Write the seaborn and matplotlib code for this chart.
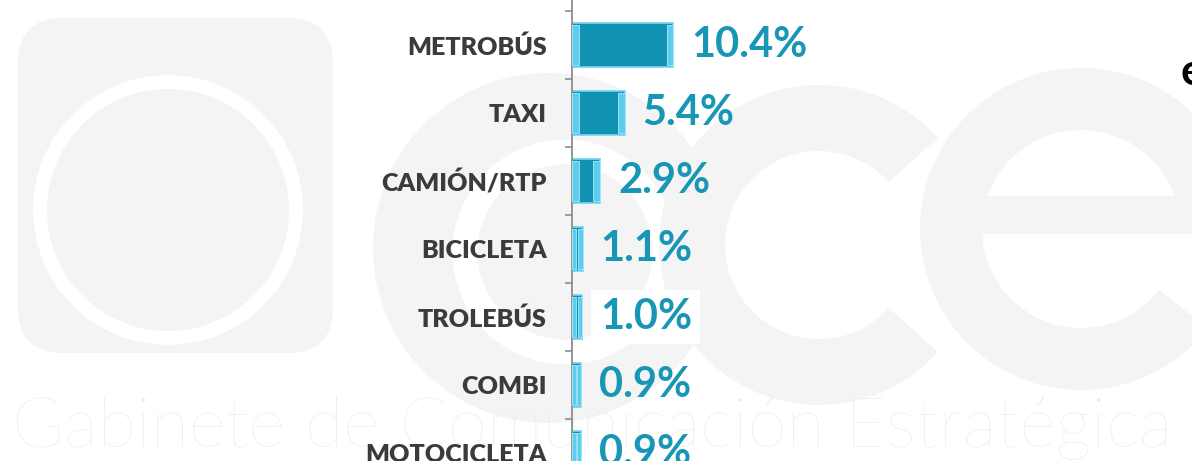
import numpy as np
import matplotlib
matplotlib.use('Agg')
import matplotlib.pyplot as plt
import matplotlib.patches as mpatches
import seaborn as sns

# Data
categories = ['METROBÚS', 'TAXI', 'CAMIÓN/RTP', 'BICICLETA', 'TROLEBÚS', 'COMBI', 'MOTOCICLETA']
values = [10.4, 5.4, 2.9, 1.1, 1.0, 0.9, 0.9]
value_labels = ['10.4%', '5.4%', '2.9%', '1.1%', '1.0%', '0.9%', '0.9%']
watermark_text = 'Gabinete de Comunicación Estratégica'

sns.set_theme(style='white')
plt.rcParams['font.family'] = ['Lato', 'DejaVu Sans']

W, H = 1192, 461
fig = plt.figure(figsize=(W / 100, H / 100), dpi=100)
fig.patch.set_facecolor('white')

# Faint logo watermark in the background (pixel coordinates)
bg = fig.add_axes([0, 0, 1, 1], zorder=0)
bg.set_xlim(0, W)
bg.set_ylim(H, 0)
bg.axis('off')
wm = '#f4f4f4'
bg.add_patch(mpatches.FancyBboxPatch((18, 18), 315, 335, boxstyle='round,pad=0,rounding_size=45',
                                     fc=wm, ec='none'))
bg.add_patch(mpatches.Circle((168, 210), 128, fill=False, ec='white', lw=10))
bg.add_patch(mpatches.Circle((548, 248), 175, fc=wm, ec='none'))
bg.add_patch(mpatches.Circle((565, 252), 100, fill=False, ec='white', lw=18))
bg.add_patch(mpatches.Wedge((819, 245), 160, 42, 318, width=66, fc=wm, ec='none'))
bg.add_patch(mpatches.Wedge((1081, 229), 161, 38, 360, width=62, fc=wm, ec='none'))
bg.add_patch(mpatches.Rectangle((925, 196), 320, 38, fc=wm, ec='none'))
wt = bg.text(12, 447, watermark_text, fontsize=50, fontweight='light', color='#ededed',
             va='baseline', ha='left')
fig.canvas.draw()
bb = wt.get_window_extent()
wt.set_fontsize(50 * 1160 / bb.width)

# Main chart, its 0 line sits at x=572 px and extends off the picture
ax = fig.add_axes([572 / W, 0, (W - 572) / W, 1], zorder=1)
ax.patch.set_alpha(0)
sns.barplot(x=values, y=categories, orient='h', color='#1192b3', saturation=1,
            width=0.65, ax=ax)

# bevel look on the bars
bars = list(ax.patches)
for p in bars:
    x0, y0, w, h = p.get_x(), p.get_y(), p.get_width(), p.get_height()
    p.set_edgecolor('#74d6f0')
    p.set_linewidth(1.2)
    bw = min(0.7, w * 0.4)
    for xs in (x0, x0 + w - bw):
        ax.add_patch(mpatches.Rectangle((xs, y0 + 0.03), bw, h - 0.06, fc='#5ccdee',
                                        ec='#a6ecfb', lw=0.6, zorder=3))

cont = ax.containers[0]
texts = ax.bar_label(cont, labels=value_labels, padding=13, fontsize=30, fontweight='bold',
                     color='#1896b5')
texts[4].set_bbox(dict(fc='white', ec='none', pad=6))

ax.set_xlabel('')
ax.set_ylabel('')
ax.xaxis.set_visible(False)
for s in ['top', 'right', 'bottom']:
    ax.spines[s].set_visible(False)
ax.spines['left'].set_color('#8c8c8c')
ax.spines['left'].set_linewidth(1.3)
ax.set_yticks(np.arange(-0.5, 7, 1), minor=True)
ax.tick_params(axis='y', which='major', length=0, pad=18, labelsize=18, labelcolor='#3b3b3b')
ax.tick_params(axis='y', which='minor', length=5, width=1.2, color='#8c8c8c', direction='out', left=True)
for lab in ax.get_yticklabels():
    lab.set_fontweight('heavy')

# cut off word at the right edge
fig.text(1181 / W, 1 - 85 / H, 'en', fontsize=32, fontweight='bold', color='black',
         va='baseline', ha='left')

ax.set_xlim(0, (W - 572) / 9.75)
ax.set_ylim(6.12, -0.66)
ax.set_autoscale_on(False)

fig.savefig('out.png', dpi=100)
